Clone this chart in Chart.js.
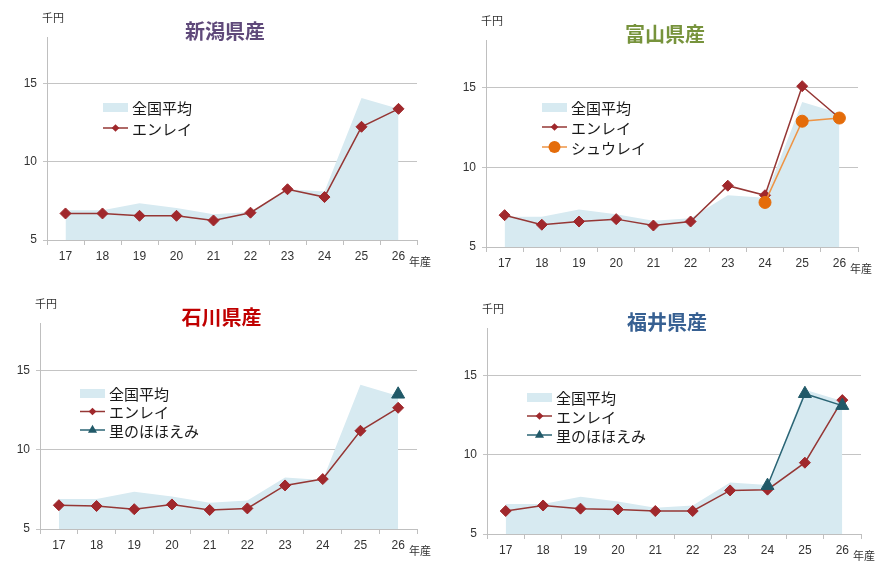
<!DOCTYPE html>
<html lang="ja">
<head>
<meta charset="utf-8">
<title>大豆の価格推移</title>
<script src="https://cdn.jsdelivr.net/npm/chart.js@4.4.1/dist/chart.umd.min.js"></script>
<style>
body{margin:0;background:#fff;}
#wrap{position:relative;width:885px;height:561px;overflow:hidden;}
#wrap canvas{position:absolute;left:0;top:0;}
</style>
</head>
<body>
<div id="wrap">
  <canvas id="c1" width="885" height="561"></canvas>
  <canvas id="c2" width="885" height="561"></canvas>
  <canvas id="c3" width="885" height="561"></canvas>
  <canvas id="c4" width="885" height="561"></canvas>
</div>
<script>
// 年産 (平成)
const years = ['17','18','19','20','21','22','23','24','25','26'];
const yTicks = [5, 10, 15];

// 全国平均 (千円)
const zenkokuAvg = [6.9, 6.9, 7.35, 7.05, 6.65, 6.8, 8.25, 8.1, 14.1, 13.4];

// 新潟県産
const niigataEnrei = [6.7, 6.7, 6.55, 6.55, 6.25, 6.75, 8.25, 7.75, 12.25, 13.4];
// 富山県産
const toyamaEnrei = [7.0, 6.4, 6.6, 6.75, 6.35, 6.6, 8.85, 8.25, 15.1, 13.1];
const toyamaShurei = [null, null, null, null, null, null, null, 7.8, 12.9, 13.1];
// 石川県産
const ishikawaEnrei = [6.5, 6.45, 6.25, 6.55, 6.2, 6.3, 7.75, 8.15, 11.2, 12.65];
const ishikawaSato = [null, null, null, null, null, null, null, null, null, 13.5];
// 福井県産
const fukuiEnrei = [6.45, 6.8, 6.6, 6.55, 6.45, 6.45, 7.75, 7.8, 9.5, 13.45];
const fukuiSato = [null, null, null, null, null, null, null, 8.05, 13.85, 13.1];

const areaColor = '#d7eaf1';
const styles = {
  'エンレイ':     { borderColor: '#953735', pointStyle: 'rectRot', pointRadius: 5.5, pointBackgroundColor: '#a0282c', pointBorderColor: '#a0282c', order: 2 },
  'シュウレイ':   { borderColor: '#ee9445', pointStyle: 'circle', pointRadius: 6, pointBackgroundColor: '#e46c0a', pointBorderColor: '#e46c0a', order: 1 },
  '里のほほえみ': { borderColor: '#2b6575', pointStyle: 'triangle', pointRadius: 7.5, pointBackgroundColor: '#215968', pointBorderColor: '#215968', order: 1 }
};

// plot = [left, top, right, bottom] on the page
const panels = [
  { id: 'c1', title: '新潟県産', color: '#5f497a', plot: [47, 37, 417, 240], legend: [103, 107, 21],
    series: [['エンレイ', niigataEnrei]] },
  { id: 'c2', title: '富山県産', color: '#77933c', plot: [486, 40, 858, 247], legend: [542, 107, 20],
    series: [['エンレイ', toyamaEnrei], ['シュウレイ', toyamaShurei]] },
  { id: 'c3', title: '石川県産', color: '#c00000', plot: [40, 323, 417, 529], legend: [80, 393, 18.5],
    series: [['エンレイ', ishikawaEnrei], ['里のほほえみ', ishikawaSato]] },
  { id: 'c4', title: '福井県産', color: '#376092', plot: [487, 328, 861, 534], legend: [527, 397, 19],
    series: [['エンレイ', fukuiEnrei], ['里のほほえみ', fukuiSato]] }
];

const Y_W = 40, X_H = 30;
const jp = '"Noto Sans CJK JP", "Noto Sans", sans-serif';

function marker(ctx, style, x, y, r) {
  ctx.beginPath();
  if (style === 'rectRot') {
    ctx.moveTo(x - r, y); ctx.lineTo(x, y - r); ctx.lineTo(x + r, y); ctx.lineTo(x, y + r);
  } else if (style === 'triangle') {
    ctx.moveTo(x, y - r); ctx.lineTo(x + r * 0.866, y + r / 2); ctx.lineTo(x - r * 0.866, y + r / 2);
  } else {
    ctx.arc(x, y, r, 0, Math.PI * 2);
  }
  ctx.closePath();
  ctx.fill();
}

// title, units and the in-plot legend
const panelText = {
  id: 'panelText',
  afterDraw(chart, args, opts) {
    const { ctx, chartArea: a } = chart;
    ctx.save();
    ctx.textBaseline = 'middle';
    ctx.textAlign = 'center';
    ctx.fillStyle = opts.color;
    ctx.font = 'bold 20px ' + jp;
    ctx.fillText(opts.title, (a.left + a.right) / 2 - 7, a.top - 6);

    ctx.fillStyle = '#333';
    ctx.font = '11px ' + jp;
    ctx.fillText('千円', a.left + 6, a.top - 19);
    ctx.textAlign = 'left';
    ctx.fillText('年産', a.right - 8, a.bottom + 22);

    const [lx, ly, gap] = opts.legend;
    ctx.font = '15px ' + jp;
    chart.data.datasets.forEach((ds, i) => {
      const y = ly + i * gap;
      if (ds.fill) {
        ctx.fillStyle = ds.backgroundColor;
        ctx.fillRect(lx, y - 4, 25, 9);
      } else {
        ctx.strokeStyle = ds.borderColor;
        ctx.lineWidth = 1.5;
        ctx.beginPath(); ctx.moveTo(lx, y); ctx.lineTo(lx + 25, y); ctx.stroke();
        ctx.fillStyle = ds.pointBackgroundColor;
        const r = ds.pointStyle === 'circle' ? ds.pointRadius : ds.pointRadius * 0.7;
        marker(ctx, ds.pointStyle, lx + 12.5, y, r);
      }
      ctx.fillStyle = '#1a1a1a';
      ctx.fillText(ds.label, lx + 29, y + 1);
    });
    ctx.restore();
  }
};

panels.forEach(p => {
  const [l, t, r, b] = p.plot;
  const datasets = [{
    label: '全国平均', data: zenkokuAvg, fill: 'start', backgroundColor: areaColor,
    borderColor: 'transparent', borderWidth: 0, pointRadius: 0, tension: 0, order: 3
  }];
  p.series.forEach(([name, values]) => {
    datasets.push(Object.assign({ label: name, data: values, fill: false, borderWidth: 1.5,
      pointBorderWidth: 1, tension: 0 }, styles[name]));
  });

  new Chart(document.getElementById(p.id), {
    type: 'line',
    data: { labels: years, datasets },
    plugins: [panelText],
    options: {
      responsive: false,
      animation: false,
      events: [],
      layout: { padding: { left: l - Y_W, top: t, right: 885 - r, bottom: 561 - b - X_H } },
      plugins: {
        legend: { display: false },
        tooltip: { enabled: false },
        panelText: { title: p.title, color: p.color, legend: p.legend }
      },
      scales: {
        x: {
          offset: true,
          grid: { offset: true, drawOnChartArea: false, tickLength: 5, color: '#bfbfbf' },
          border: { color: '#bfbfbf' },
          ticks: { color: '#333', padding: 4, maxRotation: 0, font: { family: 'Liberation Sans', size: 12 } },
          afterFit: s => { s.height = X_H; }
        },
        y: {
          min: 5, max: 18,
          afterBuildTicks: s => { s.ticks = yTicks.map(v => ({ value: v })); },
          grid: { color: '#c4c4c4', tickLength: 4 },
          border: { color: '#bfbfbf' },
          ticks: { color: '#333', padding: 6, font: { family: 'Liberation Sans', size: 12 } },
          afterFit: s => { s.width = Y_W; }
        }
      }
    }
  });
});
</script>
</body>
</html>
